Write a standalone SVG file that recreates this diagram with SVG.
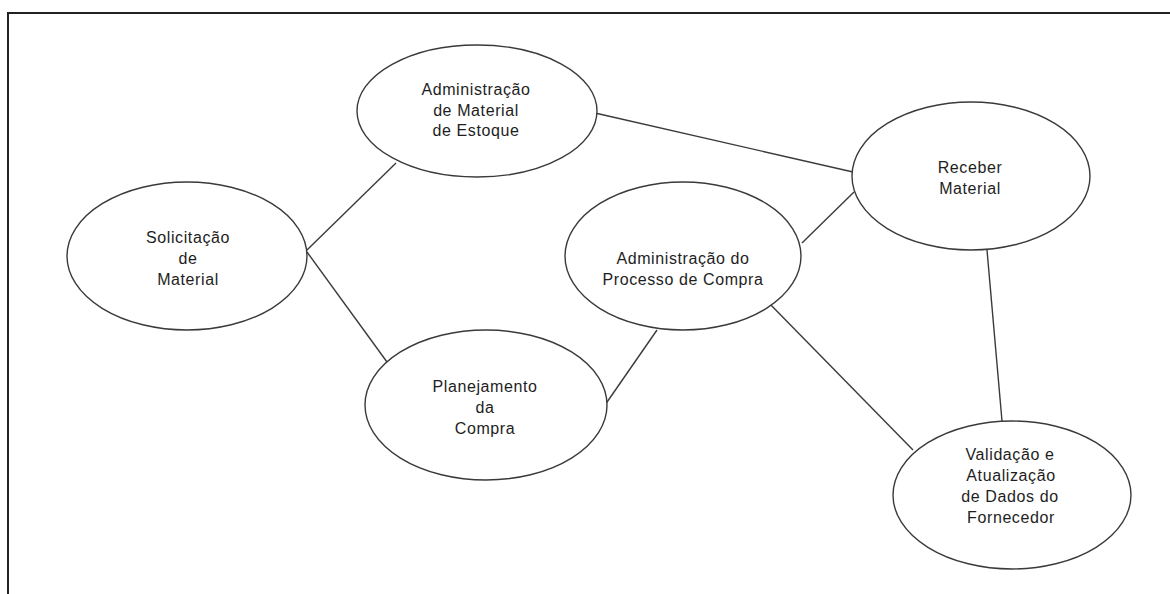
<svg xmlns="http://www.w3.org/2000/svg" width="1170" height="594" viewBox="0 0 1170 594">
  <style>
    .node ellipse { fill: #ffffff; stroke: #3a3a3a; stroke-width: 1.4; }
    .node text { font-family: "Liberation Sans", Arial, sans-serif; font-size: 16px; letter-spacing: 0.6px; fill: #1e1e1e; text-anchor: middle; }
    .edges line { stroke: #3a3a3a; stroke-width: 1.4; }
    .frame { fill: none; stroke: #222222; stroke-width: 2; }
  </style>
  <rect width="1170" height="594" fill="#ffffff"/>
  <!-- outer frame (open at right and bottom) -->
  <path class="frame" d="M8 594 V13 H1170"/>

  <g class="edges">
    <line x1="307" y1="250" x2="396" y2="163"/>
    <line x1="307" y1="252" x2="387" y2="362"/>
    <line x1="595" y1="113" x2="853" y2="172"/>
    <line x1="802" y1="243" x2="854" y2="192"/>
    <line x1="766" y1="300" x2="913" y2="450"/>
    <line x1="605" y1="405" x2="657" y2="330"/>
    <line x1="987" y1="250" x2="1002" y2="421"/>
  </g>

  <g id="estoque" class="node">
    <ellipse cx="477" cy="111" rx="120" ry="66"/>
    <text x="476" y="95">Administração</text>
    <text x="476" y="116">de Material</text>
    <text x="476" y="136">de Estoque</text>
  </g>

  <g id="solicitacao" class="node">
    <ellipse cx="187" cy="256" rx="120" ry="74"/>
    <text x="188" y="243">Solicitação</text>
    <text x="188" y="264">de</text>
    <text x="188" y="285">Material</text>
  </g>

  <g id="processo" class="node">
    <ellipse cx="683" cy="256" rx="118" ry="74"/>
    <text x="683" y="264">Administração do</text>
    <text x="683" y="285">Processo de Compra</text>
  </g>

  <g id="receber" class="node">
    <ellipse cx="971" cy="176" rx="119" ry="74"/>
    <text x="970" y="173">Receber</text>
    <text x="970" y="194">Material</text>
  </g>

  <g id="planejamento" class="node">
    <ellipse cx="486" cy="405" rx="121" ry="75"/>
    <text x="485" y="392">Planejamento</text>
    <text x="485" y="413">da</text>
    <text x="485" y="434">Compra</text>
  </g>

  <g id="validacao" class="node">
    <ellipse cx="1012" cy="495" rx="119" ry="74"/>
    <text x="1010" y="460">Validação e</text>
    <text x="1011" y="481">Atualização</text>
    <text x="1010" y="502">de Dados do</text>
    <text x="1011" y="523">Fornecedor</text>
  </g>
</svg>
